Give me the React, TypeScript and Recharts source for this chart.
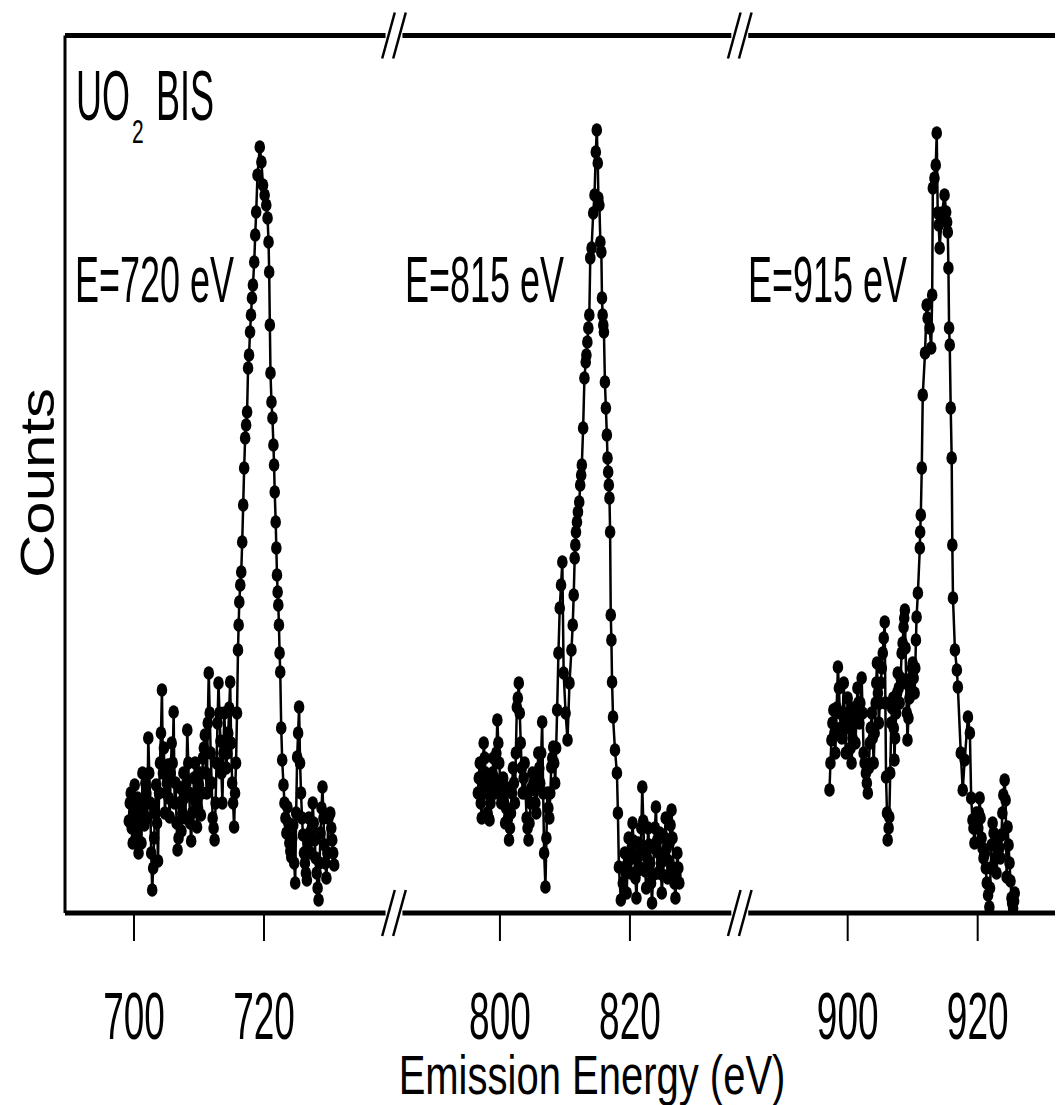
import React from 'react';
import { ScatterChart, Scatter, XAxis, YAxis, ReferenceLine, ReferenceDot } from 'recharts';

// Measured spectra: [emission energy (eV), counts (arb. units)]
const SEG1: [number, number][] = [
  [699.2, 92], [699.35, 110], [699.5, 120], [699.65, 85], [699.8, 70], [699.95, 100], [700.1, 128], [700.25, 75],
  [700.4, 98], [700.55, 115], [700.7, 60], [700.85, 90], [701.0, 105], [701.15, 70], [701.3, 140], [701.45, 112],
  [701.6, 88], [701.75, 130], [701.9, 120], [702.05, 95], [702.2, 175], [702.35, 140], [702.5, 110], [702.65, 60],
  [702.8, 23], [702.95, 45], [703.1, 75], [703.25, 100], [703.4, 128], [703.55, 90], [703.7, 52], [703.85, 120],
  [704.0, 150], [704.15, 180], [704.3, 223], [704.45, 140], [704.6, 165], [704.75, 100], [704.9, 120], [705.05, 130],
  [705.2, 148], [705.35, 115], [705.5, 96], [705.65, 140], [705.8, 170], [705.95, 150], [706.1, 201], [706.25, 110],
  [706.4, 130], [706.55, 90], [706.7, 63], [706.85, 75], [707.0, 110], [707.15, 125], [707.3, 82], [707.45, 100],
  [707.6, 140], [707.75, 115], [707.9, 95], [708.05, 130], [708.2, 183], [708.35, 150], [708.5, 120], [708.65, 90],
  [708.8, 72], [708.95, 100], [709.1, 115], [709.25, 135], [709.4, 150], [709.55, 110], [709.7, 86], [709.85, 105],
  [710.0, 128], [710.15, 140], [710.3, 98], [710.45, 120], [710.6, 155], [710.75, 165], [710.9, 178], [711.05, 140],
  [711.2, 120], [711.35, 190], [711.5, 240], [711.65, 200], [711.8, 160], [711.95, 130], [712.1, 95], [712.25, 85],
  [712.4, 73], [712.55, 110], [712.7, 150], [712.85, 190], [713.0, 230], [713.15, 200], [713.3, 172], [713.45, 140],
  [713.6, 110], [713.75, 160], [713.9, 200], [714.05, 170], [714.2, 145], [714.35, 160], [714.5, 180], [714.65, 205],
  [714.8, 231], [714.95, 170], [715.1, 130], [715.25, 110], [715.4, 86], [715.55, 120], [715.7, 150], [715.85, 200],
  [716.0, 263], [716.1, 288], [716.2, 311], [716.35, 328], [716.5, 341], [716.65, 371], [716.8, 408], [716.95, 445],
  [717.1, 475], [717.25, 488], [717.4, 501], [717.55, 545], [717.7, 558], [717.85, 581], [718.0, 598], [718.15, 615],
  [718.3, 628], [718.5, 651], [718.65, 678], [718.8, 701], [719.0, 738], [719.35, 766], [719.6, 751], [719.85, 728],
  [720.1, 718], [720.35, 708], [720.55, 695], [720.7, 671], [720.8, 641], [720.9, 588], [721.0, 540], [721.15, 511],
  [721.3, 495], [721.45, 468], [721.55, 448], [721.65, 421], [721.8, 391], [721.9, 365], [722.0, 338], [722.1, 321],
  [722.2, 308], [722.3, 288], [722.4, 260], [722.5, 241], [722.65, 185], [722.8, 153], [723.0, 128], [723.15, 110],
  [723.3, 95], [723.45, 80], [723.6, 106], [723.75, 90], [723.9, 70], [724.05, 62], [724.2, 56], [724.35, 75],
  [724.5, 88], [724.65, 50], [724.8, 30], [724.95, 100], [725.1, 156], [725.25, 180], [725.4, 206], [725.55, 150],
  [725.7, 120], [725.85, 95], [726.0, 78], [726.15, 60], [726.3, 50], [726.45, 40], [726.6, 33], [726.75, 70],
  [726.9, 95], [727.05, 80], [727.2, 60], [727.35, 85], [727.5, 110], [727.65, 90], [727.8, 73], [727.95, 55],
  [728.1, 40], [728.25, 25], [728.4, 13], [728.55, 50], [728.7, 80], [728.85, 105], [729.0, 126], [729.15, 95],
  [729.3, 68], [729.45, 50], [729.6, 35], [729.75, 60], [729.9, 95], [730.05, 98], [730.2, 100], [730.35, 85],
  [730.5, 73], [730.65, 60], [730.8, 48],
];

const SEG2: [number, number][] = [
  [796.6, 120], [796.75, 135], [796.9, 150], [797.05, 110], [797.2, 95], [797.35, 130], [797.5, 170], [797.65, 155],
  [797.8, 140], [797.95, 120], [798.1, 100], [798.25, 95], [798.4, 93], [798.55, 110], [798.7, 130], [798.85, 140],
  [799.0, 155], [799.15, 135], [799.3, 120], [799.45, 160], [799.6, 193], [799.75, 170], [799.9, 150], [800.05, 130],
  [800.2, 110], [800.35, 120], [800.5, 135], [800.65, 110], [800.8, 90], [800.95, 105], [801.1, 125], [801.25, 95],
  [801.4, 73], [801.55, 85], [801.7, 100], [801.85, 120], [802.0, 145], [802.15, 130], [802.3, 110], [802.45, 160],
  [802.6, 206], [802.75, 215], [802.9, 230], [803.05, 200], [803.2, 170], [803.35, 145], [803.5, 120], [803.65, 135],
  [803.8, 150], [803.95, 120], [804.1, 95], [804.25, 85], [804.4, 73], [804.55, 90], [804.7, 110], [804.85, 125],
  [805.0, 140], [805.15, 130], [805.3, 123], [805.45, 110], [805.6, 100], [805.75, 130], [805.9, 160], [806.05, 145],
  [806.2, 130], [806.35, 160], [806.5, 191], [806.65, 120], [806.8, 60], [807.0, 26], [807.15, 75], [807.3, 120],
  [807.45, 105], [807.6, 95], [807.75, 120], [807.9, 146], [808.05, 155], [808.2, 166], [808.35, 150], [808.5, 130],
  [808.65, 165], [808.8, 203], [809.0, 260], [809.2, 305], [809.4, 328], [809.6, 351], [809.8, 240], [810.1, 200],
  [810.4, 173], [810.7, 230], [811.0, 263], [811.2, 288], [811.35, 318], [811.5, 355], [811.6, 368], [811.7, 381],
  [811.85, 391], [812.0, 401], [812.2, 411], [812.35, 428], [812.5, 438], [812.6, 448], [812.8, 485], [813.0, 535],
  [813.2, 551], [813.3, 558], [813.45, 571], [813.6, 585], [813.75, 598], [813.9, 655], [814.1, 665], [814.35, 700],
  [814.55, 718], [814.75, 761], [814.9, 783], [815.05, 750], [815.15, 715], [815.3, 708], [815.45, 671], [815.6, 661],
  [815.7, 615], [815.8, 598], [815.9, 588], [816.0, 581], [816.15, 531], [816.3, 505], [816.45, 478], [816.55, 455],
  [816.65, 441], [816.75, 428], [816.85, 415], [816.95, 381], [817.05, 298], [817.15, 273], [817.25, 231], [817.4, 196],
  [817.7, 163], [818.0, 140], [818.15, 100], [818.3, 46], [818.6, 13], [818.9, 30], [819.05, 45], [819.2, 60],
  [819.35, 40], [819.5, 20], [819.65, 50], [819.8, 75], [819.95, 58], [820.1, 40], [820.25, 65], [820.4, 90],
  [820.55, 72], [820.7, 55], [820.85, 35], [821.0, 15], [821.15, 42], [821.3, 70], [821.45, 58], [821.6, 45],
  [821.75, 85], [821.9, 126], [822.05, 92], [822.2, 60], [822.35, 42], [822.5, 25], [822.65, 55], [822.8, 85],
  [822.95, 68], [823.1, 50], [823.25, 30], [823.4, 10], [823.55, 38], [823.7, 65], [823.85, 85], [824.0, 106],
  [824.15, 72], [824.3, 40], [824.45, 60], [824.6, 80], [824.75, 50], [824.9, 20], [825.05, 38], [825.2, 55],
  [825.35, 75], [825.5, 95], [825.65, 65], [825.8, 35], [825.95, 52], [826.1, 70], [826.25, 88], [826.4, 103],
  [826.55, 75], [826.7, 45], [826.85, 30], [827.0, 15], [827.15, 38], [827.3, 60], [827.45, 45], [827.6, 30],
];

const SEG3: [number, number][] = [
  [897.2, 123], [897.35, 150], [897.5, 173], [897.65, 190], [897.8, 203], [897.95, 180], [898.1, 160], [898.3, 205],
  [898.5, 246], [898.65, 225], [898.8, 200], [898.95, 185], [899.1, 175], [899.25, 200], [899.4, 230], [899.55, 195],
  [899.7, 160], [899.85, 190], [900.0, 215], [900.15, 200], [900.3, 185], [900.45, 165], [900.6, 150], [900.75, 175],
  [900.9, 205], [901.05, 190], [901.2, 170], [901.35, 195], [901.5, 225], [901.65, 210], [901.8, 190], [901.95, 210],
  [902.15, 235], [902.3, 200], [902.45, 160], [902.6, 150], [902.8, 140], [902.95, 130], [903.1, 120], [903.25, 145],
  [903.4, 170], [903.55, 185], [903.7, 200], [903.85, 175], [904.0, 150], [904.15, 180], [904.3, 210], [904.4, 230],
  [904.5, 250], [904.65, 220], [904.8, 190], [904.95, 210], [905.1, 230], [905.25, 245], [905.4, 260], [905.55, 275],
  [905.7, 291], [905.8, 210], [905.9, 136], [906.05, 100], [906.15, 73], [906.3, 85], [906.4, 96], [906.55, 140],
  [906.7, 190], [906.85, 205], [907.0, 215], [907.1, 185], [907.2, 153], [907.3, 175], [907.45, 200], [907.6, 220],
  [907.7, 240], [907.85, 225], [908.0, 210], [908.15, 235], [908.3, 260], [908.45, 270], [908.6, 286], [908.7, 295],
  [908.8, 303], [908.9, 265], [909.0, 230], [909.1, 200], [909.2, 173], [909.35, 195], [909.5, 215], [909.65, 225],
  [909.8, 235], [909.9, 245], [910.0, 250], [910.15, 235], [910.3, 220], [910.4, 245], [910.5, 273], [910.6, 296],
  [910.8, 320], [911.1, 365], [911.15, 381], [911.25, 398], [911.4, 445], [911.55, 518], [911.9, 560], [912.15, 608],
  [912.3, 595], [912.6, 585], [912.85, 565], [913.0, 618], [913.1, 725], [913.35, 735], [913.55, 748], [913.7, 780],
  [913.85, 700], [914.0, 688], [914.15, 665], [914.5, 700], [914.9, 718], [915.15, 701], [915.3, 691], [915.4, 681],
  [915.5, 645], [915.6, 585], [915.7, 568], [915.85, 505], [916.0, 455], [916.1, 368], [916.2, 315], [916.5, 263],
  [916.8, 243], [916.95, 226], [917.4, 160], [917.7, 123], [918.0, 153], [918.5, 196], [918.8, 180], [919.0, 115],
  [919.2, 93], [919.35, 85], [919.5, 70], [919.65, 85], [919.8, 100], [919.95, 92], [920.1, 85], [920.2, 100],
  [920.3, 115], [920.45, 95], [920.6, 75], [920.75, 65], [920.9, 55], [921.0, 58], [921.1, 60], [921.25, 45],
  [921.4, 30], [921.6, 18], [921.8, 6], [921.9, 25], [922.0, 45], [922.15, 68], [922.3, 90], [922.45, 80],
  [922.6, 70], [922.75, 55], [922.9, 40], [923.05, 58], [923.2, 75], [923.35, 65], [923.5, 55], [923.65, 78],
  [923.8, 100], [923.95, 118], [924.15, 133], [924.3, 113], [924.45, 36], [924.6, 86], [924.75, 68], [924.9, 50],
  [925.05, 32], [925.2, 15], [925.3, 10], [925.45, 5], [925.6, 12], [925.7, 20],
];

// Broken axis: each segment is shifted onto one continuous display axis
const SEG_OFFSETS = [700, 743.7, 790.2];
const TICK_EV = [700, 720, 800, 820, 900, 920];
const TICK_SEG = [0, 0, 1, 1, 2, 2];
const BREAKS = [40.0, 93.2];
const BREAK_GAP = 1.3;
const X_DOMAIN: [number, number] = [-10.615, 147.08];
const Y_DOMAIN: [number, number] = [0, 877.5];
const PEAK_LABELS = ['E=720 eV', 'E=815 eV', 'E=915 eV'];
const TITLE = ['UO', '2', 'BIS'];
const X_LABEL = 'Emission Energy (eV)';
const Y_LABEL = 'Counts';

const TICK_D = TICK_EV.map((e, i) => e - SEG_OFFSETS[TICK_SEG[i]]);
const toRows = (seg: [number, number][], k: number) => seg.map(([e, c]) => ({ d: e - SEG_OFFSETS[k], c }));
const DATA = [toRows(SEG1, 0), toRows(SEG2, 1), toRows(SEG3, 2)];

const FONT = '"Liberation Sans", Arial, Helvetica, sans-serif';

const Dot = (props: any) => {
  const { cx, cy } = props;
  if (cx == null || cy == null) return null;
  return <ellipse cx={cx} cy={cy} rx={5.3} ry={6.8} fill="#000" />;
};

const BreakMark = (props: any) => {
  const { cx, cy } = props;
  if (cx == null || cy == null) return null;
  const dx = 6.3, dy = 23, sep = 5.5;
  return (
    <g>
      <line x1={cx - sep + dx} y1={cy - dy} x2={cx - sep - dx} y2={cy + dy} stroke="#000" strokeWidth={2.5} />
      <line x1={cx + sep + dx} y1={cy - dy} x2={cx + sep - dx} y2={cy + dy} stroke="#000" strokeWidth={2.5} />
    </g>
  );
};

const Tick = (props: any) => {
  const { x, y, payload } = props;
  const i = TICK_D.findIndex((t) => Math.abs(t - payload.value) < 1e-6);
  const label = i >= 0 ? TICK_EV[i] : '';
  return (
    <text transform={`translate(${x}, ${y + 96}) scale(1, 1.78)`} textAnchor="middle" fontFamily={FONT} fontSize={37} fill="#000">
      {label}
    </text>
  );
};

const StretchText = ({ x, y, s, size, children, anchor = 'start' }: any) => (
  <text transform={`translate(${x}, ${y}) scale(1, ${s})`} fontFamily={FONT} fontSize={size} fill="#000" textAnchor={anchor}>
    {children}
  </text>
);

export default function App() {
  const top = Y_DOMAIN[1];
  const segLines: [number, number][] = [
    [X_DOMAIN[0], BREAKS[0] - BREAK_GAP],
    [BREAKS[0] + BREAK_GAP, BREAKS[1] - BREAK_GAP],
    [BREAKS[1] + BREAK_GAP, X_DOMAIN[1]],
  ];
  const peakX = [67, 397, 740];
  return (
    <div style={{ position: 'relative', width: 1055, height: 1097, overflow: 'hidden' }}>
      <ScatterChart width={1100} height={1097} margin={{ top: 27.5, right: 18, bottom: 0, left: 0 }}>
        <XAxis
          dataKey="d"
          type="number"
          domain={X_DOMAIN}
          ticks={TICK_D}
          allowDataOverflow
          height={192}
          axisLine={false}
          tickLine={{ stroke: '#000', strokeWidth: 2 }}
          tickSize={28}
          tick={<Tick />}
          interval={0}
        />
        <YAxis
          dataKey="c"
          type="number"
          domain={Y_DOMAIN}
          allowDataOverflow
          width={57}
          tick={false}
          tickLine={false}
          axisLine={{ stroke: '#000', strokeWidth: 3 }}
        />
        {segLines.map(([a, b], i) => (
          <ReferenceLine key={'b' + i} segment={[{ x: a, y: 0 }, { x: b, y: 0 }]} stroke="#000" strokeWidth={5} ifOverflow="visible" />
        ))}
        {segLines.map(([a, b], i) => (
          <ReferenceLine key={'t' + i} segment={[{ x: a, y: top }, { x: b, y: top }]} stroke="#000" strokeWidth={5} ifOverflow="visible" />
        ))}
        {DATA.map((rows, i) => (
          <Scatter
            key={i}
            data={rows}
            fill="#000"
            shape={<Dot />}
            line={{ stroke: '#000', strokeWidth: 2.5 }}
            lineType="joint"
            isAnimationActive={false}
          />
        ))}
        {BREAKS.map((b, i) => (
          <ReferenceDot key={'db' + i} x={b} y={0} r={0} shape={<BreakMark />} ifOverflow="visible" />
        ))}
        {BREAKS.map((b, i) => (
          <ReferenceDot key={'dt' + i} x={b} y={top} r={0} shape={<BreakMark />} ifOverflow="visible" />
        ))}
      </ScatterChart>
      <svg width={1055} height={1097} style={{ position: 'absolute', left: 0, top: 0, pointerEvents: 'none' }}>
        <StretchText x={68} y={112} s={1.95} size={36}>{TITLE[0]}</StretchText>
        <StretchText x={124} y={135} s={1.6} size={21}>{TITLE[1]}</StretchText>
        <StretchText x={148} y={112} s={1.95} size={36}>{TITLE[2]}</StretchText>
        {PEAK_LABELS.map((t, i) => (
          <StretchText key={t} x={peakX[i]} y={294} s={1.8} size={36}>{t}</StretchText>
        ))}
        <StretchText x={584} y={1086} s={1.4} size={40} anchor="middle">{X_LABEL}</StretchText>
        <text transform="translate(46, 475) rotate(-90) scale(1.25, 1)" fontFamily={FONT} fontSize={48} fill="#000" textAnchor="middle">
          {Y_LABEL}
        </text>
      </svg>
    </div>
  );
}
